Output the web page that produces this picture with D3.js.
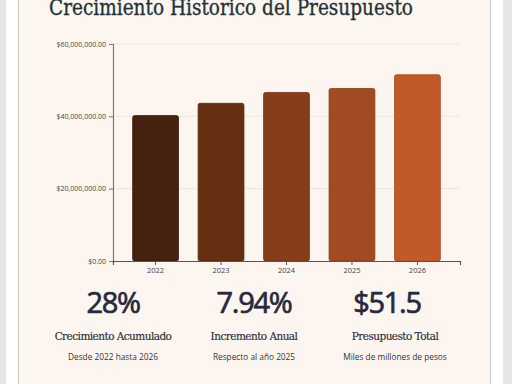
<!DOCTYPE html>
<html><head><meta charset="utf-8">
<script src="https://cdn.jsdelivr.net/npm/d3@7/dist/d3.min.js"></script>
<style>
html,body{margin:0;padding:0;background:#fff;overflow:hidden;}
svg{display:block;}
</style></head>
<body><svg id="c" width="512" height="384"></svg>
<script>
const years = ["2022","2023","2024","2025","2026"];
const budget = [40200000, 43600000, 46600000, 47700000, 51500000];
const barColors = ["#45220f","#653012","#873d1c","#a24b23","#c25a27"];
const yTicks = [0, 20000000, 40000000, 60000000];
const statValues = ["28%","7.94%","$51.5"];
const statLabels = ["Crecimiento Acumulado","Incremento Anual","Presupuesto Total"];
const statNotes = ["Desde 2022 hasta 2026","Respecto al año 2025","Miles de millones de pesos"];

const svg = d3.select("#c");
svg.append("rect").attr("x",0).attr("y",0).attr("width",6).attr("height",384).attr("fill","#e6e6e6");
svg.append("rect").attr("x",503).attr("y",0).attr("width",9).attr("height",384).attr("fill","#e6e6e6");
svg.append("rect").attr("x",18.5).attr("y",-20).attr("width",472).attr("height",430)
  .attr("fill","#fdf6f0").attr("stroke","#c9c5c0").attr("stroke-width",1);

svg.append("text").attr("x",49).attr("y",14.5)
  .attr("font-family","'DejaVu Serif', serif").attr("font-size",22)
  .attr("fill","#1f3338").attr("stroke","#1f3338").attr("stroke-width",0.35)
  .attr("textLength",364).attr("lengthAdjust","spacingAndGlyphs")
  .text("Crecimiento Historico del Presupuesto");

const x = d3.scaleBand().domain(years).range([113,460]).paddingInner(0.3).paddingOuter(0.3);
const y = d3.scaleLinear().domain([0,60000000]).range([261,44]);

svg.append("g").selectAll("line").data(yTicks.filter(d=>d>0)).join("line")
  .attr("x1",113).attr("x2",460).attr("y1",d=>y(d)).attr("y2",d=>y(d))
  .attr("stroke","#ebe6e0").attr("stroke-width",1);

svg.append("g").selectAll("rect").data(budget).join("rect")
  .attr("x",(d,i)=>x(years[i])).attr("width",x.bandwidth())
  .attr("y",d=>y(d)).attr("height",d=>y(0)-y(d))
  .attr("rx",2).attr("fill",(d,i)=>barColors[i])
  .attr("stroke",(d,i)=>d3.color(barColors[i]).darker(0.5)).attr("stroke-width",0.8);

const fmt = d3.format("$,.2f");
const yAxis = svg.append("g").attr("transform","translate(113,0)")
  .call(d3.axisLeft(y).tickValues(yTicks).tickFormat(fmt).tickSize(4));
yAxis.select(".domain").attr("stroke","#777").attr("stroke-width",1.2);
yAxis.selectAll(".tick line").attr("stroke","#777");
yAxis.selectAll("text").attr("font-family","'Open Sans', sans-serif").attr("font-size",7).attr("fill","#444");

const xAxis = svg.append("g").attr("transform","translate(0,261)")
  .call(d3.axisBottom(x).tickSize(4));
xAxis.select(".domain").attr("stroke","#555").attr("stroke-width",1.2);
xAxis.selectAll(".tick line").attr("stroke","#555");
xAxis.selectAll("text").attr("font-family","'Open Sans', sans-serif").attr("font-size",7.5).attr("fill","#444");

const cx = [113, 254, 395];
const valX = [113, 254, 387];
const g = svg.append("g");
g.selectAll("text.v").data(statValues).join("text").attr("class","v")
  .attr("x",(d,i)=>valX[i]).attr("y",313).attr("text-anchor","middle")
  .attr("font-family","'Open Sans', sans-serif").attr("font-weight",400).attr("font-size",29)
  .attr("letter-spacing",-1.3).attr("fill","#262a3b")
  .attr("stroke","#262a3b").attr("stroke-width",0.7).text(d=>d);
g.selectAll("text.l").data(statLabels).join("text").attr("class","l")
  .attr("x",(d,i)=>cx[i]).attr("y",340).attr("text-anchor","middle")
  .attr("font-family","'DejaVu Serif', serif").attr("font-size",10.5)
  .attr("letter-spacing",-0.55).attr("fill","#2c2c38").attr("stroke","#2c2c38").attr("stroke-width",0.15)
  .text(d=>d);
g.selectAll("text.n").data(statNotes).join("text").attr("class","n")
  .attr("x",(d,i)=>cx[i]).attr("y",360).attr("text-anchor","middle")
  .attr("font-family","'Open Sans', sans-serif").attr("font-size",8.3)
  .attr("fill","#333").text(d=>d);
</script></body></html>
